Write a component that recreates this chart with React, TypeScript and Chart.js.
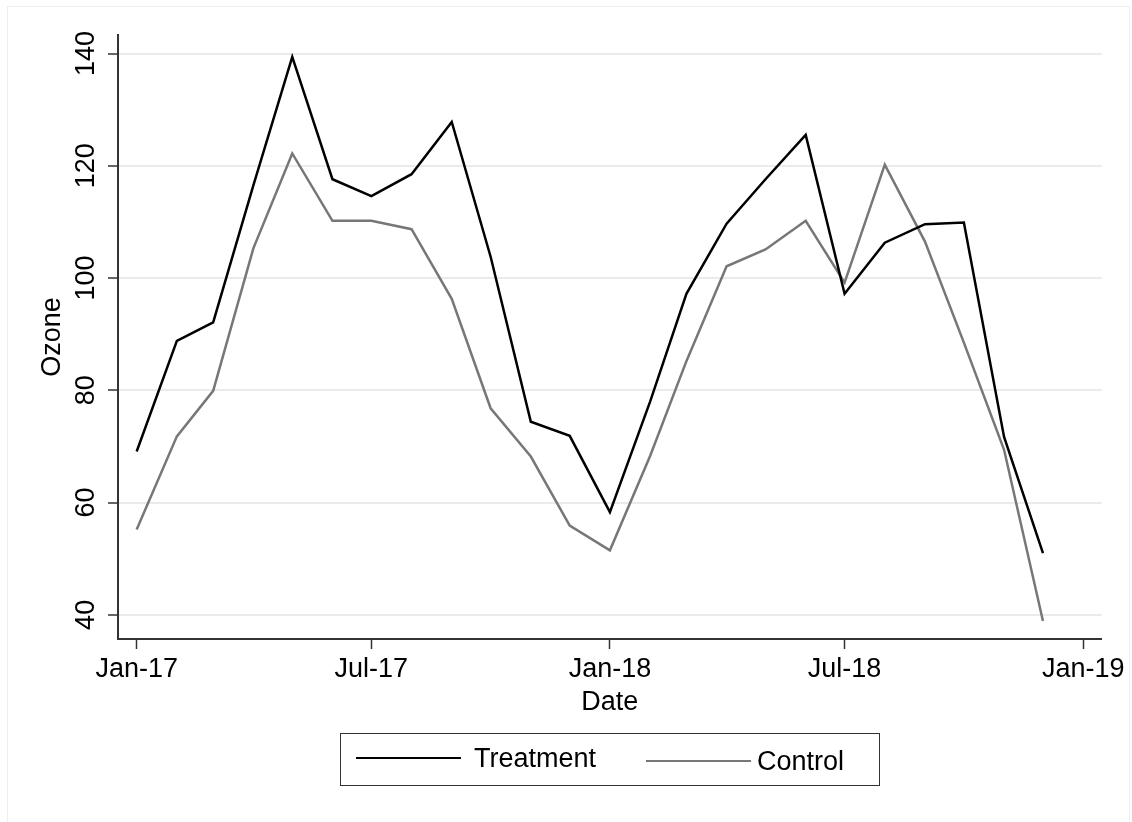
import React, { useEffect, useRef } from "react";
import { Chart, registerables } from "chart.js";

Chart.register(...registerables);

// ---- data ----
const months = [
  "2017-01-01", "2017-02-01", "2017-03-01", "2017-04-01", "2017-05-01", "2017-06-01",
  "2017-07-01", "2017-08-01", "2017-09-01", "2017-10-01", "2017-11-01", "2017-12-01",
  "2018-01-01", "2018-02-01", "2018-03-01", "2018-04-01", "2018-05-01", "2018-06-01",
  "2018-07-01", "2018-08-01", "2018-09-01", "2018-10-01", "2018-11-01", "2018-12-01",
];
const treatment = [
  69.1, 88.8, 92.1, 116.5, 139.4, 117.6, 114.6, 118.5, 127.8, 103.8, 74.4, 71.9,
  58.3, 78.0, 97.2, 109.7, 117.6, 125.5, 97.2, 106.3, 109.6, 109.9, 71.7, 51.0,
];
const control = [
  55.2, 71.8, 79.9, 105.3, 122.2, 110.2, 110.2, 108.7, 96.3, 76.8, 68.2, 55.9,
  51.5, 68.3, 85.2, 102.1, 105.1, 110.2, 99.2, 120.2, 106.5, 88.5, 69.4, 38.9,
];
const xTickDates = ["2017-01-01", "2017-07-01", "2018-01-01", "2018-07-01", "2019-01-01"];
const xTickLabels = ["Jan-17", "Jul-17", "Jan-18", "Jul-18", "Jan-19"];
const yTickValues = [40, 60, 80, 100, 120, 140];
const yTickLabels = ["40", "60", "80", "100", "120", "140"];
const seriesNames = ["Treatment", "Control"];

const FONT = '"Liberation Sans", Arial, Helvetica, sans-serif';
const DAY_MS = 86400000;
const ORIGIN = Date.parse("2017-01-01T00:00:00Z");
const toDay = (s: string) => (Date.parse(s + "T00:00:00Z") - ORIGIN) / DAY_MS;

const yLabelPlugin = {
  id: "yRotatedLabels",
  afterDraw(chart: any) {
    const s = chart.scales.y;
    const ctx = chart.ctx;
    ctx.save();
    ctx.font = `27px ${FONT}`;
    ctx.fillStyle = "#000";
    ctx.textAlign = "center";
    ctx.textBaseline = "middle";
    s.ticks.forEach((t: any, i: number) => {
      const y = s.getPixelForValue(t.value);
      ctx.save();
      ctx.translate(s.right - 31, y);
      ctx.rotate(-Math.PI / 2);
      ctx.fillText(yTickLabels[i], 0, 0);
      ctx.restore();
    });
    ctx.restore();
  },
};

export default function App() {
  const canvasRef = useRef<HTMLCanvasElement | null>(null);

  useEffect(() => {
    if (!canvasRef.current) return;
    const chart = new Chart(canvasRef.current, {
      type: "line",
      data: {
        datasets: [
          {
            label: seriesNames[0],
            data: treatment.map((v, i) => ({ x: toDay(months[i]), y: v })),
            borderColor: "#000000",
            borderWidth: 2.5,
            pointRadius: 0,
            tension: 0,
            fill: false,
          },
          {
            label: seriesNames[1],
            data: control.map((v, i) => ({ x: toDay(months[i]), y: v })),
            borderColor: "#777777",
            borderWidth: 2.5,
            pointRadius: 0,
            tension: 0,
            fill: false,
          },
        ],
      },
      options: {
        responsive: false,
        animation: false,
        layout: { padding: { left: 0, top: 35, right: 30.3, bottom: 0 } },
        plugins: { legend: { display: false }, tooltip: { enabled: false } },
        scales: {
          x: {
            type: "linear",
            min: -14.4,
            max: 744.3,
            afterBuildTicks: (s: any) => {
              s.ticks = xTickDates.map((d) => ({ value: toDay(d) }));
            },
            afterFit: (s: any) => {
              s.height = 183;
            },
            ticks: {
              autoSkip: false,
              maxRotation: 0,
              minRotation: 0,
              padding: 4,
              color: "#000",
              font: { family: FONT, size: 27 },
              callback: (_v: any, i: number) => xTickLabels[i],
            },
            grid: {
              drawOnChartArea: false,
              drawTicks: true,
              tickLength: 10,
              tickColor: "#333",
              tickWidth: 1.5,
            },
            border: { display: true, color: "#333", width: 2 },
            title: {
              display: true,
              text: "Date",
              color: "#000",
              font: { family: FONT, size: 27 },
              padding: { top: 0, bottom: 102.8 },
            },
          },
          y: {
            type: "linear",
            min: 35.7,
            max: 143.3,
            afterBuildTicks: (s: any) => {
              s.ticks = yTickValues.map((v) => ({ value: v }));
            },
            afterFit: (s: any) => {
              s.width = 118;
            },
            ticks: { display: false },
            grid: {
              color: "#ebebeb",
              lineWidth: 2,
              drawTicks: true,
              tickLength: 10,
              tickColor: "#333",
              tickWidth: 1.5,
            },
            border: { display: true, color: "#333", width: 2 },
            title: {
              display: true,
              text: "Ozone",
              color: "#000",
              font: { family: FONT, size: 27 },
              padding: { top: 36.8, bottom: 0 },
            },
          },
        },
      },
      plugins: [yLabelPlugin],
    });
    return () => chart.destroy();
  }, []);

  const textStyle: React.CSSProperties = {
    position: "absolute",
    fontFamily: FONT,
    fontSize: 27,
    lineHeight: "27px",
    color: "#000",
    whiteSpace: "nowrap",
  };

  return (
    <div
      style={{
        position: "absolute",
        left: 0,
        top: 0,
        width: 1132,
        height: 822,
        background: "#fff",
        overflow: "hidden",
      }}
    >
      <div
        style={{
          position: "absolute",
          left: 7,
          top: 6,
          width: 1123,
          height: 840,
          border: "1px solid #eeeeee",
          boxSizing: "border-box",
        }}
      />
      <canvas
        ref={canvasRef}
        width={1132}
        height={822}
        style={{ position: "absolute", left: 0, top: 0, width: 1132, height: 822 }}
      />
      <div
        style={{
          position: "absolute",
          left: 340,
          top: 733,
          width: 540,
          height: 53,
          border: "1.5px solid #333",
          boxSizing: "border-box",
        }}
      />
      <div style={{ position: "absolute", left: 356, top: 757, width: 105, height: 2.4, background: "#000" }} />
      <span style={{ ...textStyle, left: 474, top: 745 }}>{seriesNames[0]}</span>
      <div style={{ position: "absolute", left: 646, top: 760, width: 105, height: 2.4, background: "#777777" }} />
      <span style={{ ...textStyle, left: 757, top: 748 }}>{seriesNames[1]}</span>
    </div>
  );
}
